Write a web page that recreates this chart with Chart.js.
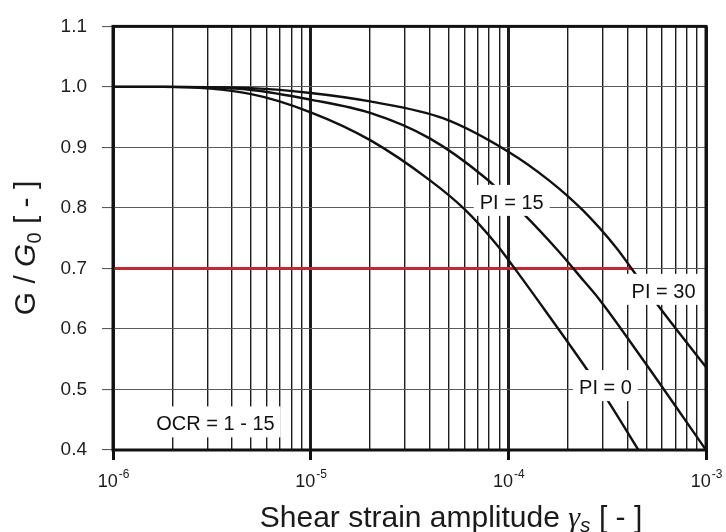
<!DOCTYPE html>
<html>
<head>
<meta charset="utf-8">
<script src="https://cdn.jsdelivr.net/npm/chart.js@4.4.1/dist/chart.umd.min.js"></script>
<style>
  html, body { margin: 0; padding: 0; background: #fff; }
  #wrap { width: 726px; height: 532px; position: relative; }
</style>
</head>
<body>
<div id="wrap"><canvas id="c" width="726" height="532"></canvas></div>
<script>
// Axis ticks
const strainDecades = [1e-6, 1e-5, 1e-4, 1e-3];
const decadeExponents = ['-6', '-5', '-4', '-3'];
const ratioTicks = [0.4, 0.5, 0.6, 0.7, 0.8, 0.9, 1.0, 1.1];

// Modulus reduction curves G/G0 versus shear strain amplitude
const pi0Strain  = [1e-6, 1.8e-6, 5e-6, 1e-5, 2e-5, 4e-5, 6e-5, 8.8e-5, 1.06e-4, 1.42e-4, 2.5e-4, 3.15e-4, 4.55e-4];
const pi0Ratio   = [1.0, 1.0, 0.988, 0.958, 0.912, 0.846, 0.798, 0.738, 0.703, 0.646, 0.533, 0.484, 0.400];

const pi15Strain = [1e-6, 2e-6, 5e-6, 1e-5, 2e-5, 4e-5, 7.5e-5, 1.17e-4, 1.8e-4, 2.4e-4, 2.9e-4, 4.9e-4, 1e-3];
const pi15Ratio  = [1.0, 1.0, 0.995, 0.979, 0.957, 0.915, 0.852, 0.793, 0.728, 0.680, 0.648, 0.545, 0.400];

const pi30Strain = [1e-6, 2e-6, 5e-6, 1e-5, 2e-5, 4.7e-5, 1e-4, 1.6e-4, 2.4e-4, 3.5e-4, 4.2e-4, 5.6e-4, 1e-3];
const pi30Ratio  = [1.0, 1.0, 0.998, 0.990, 0.976, 0.948, 0.893, 0.846, 0.795, 0.735, 0.700, 0.643, 0.537];

// Reference level G/G0 = 0.7
const refStrain = [1e-6, 4.2e-4];
const refRatio  = [0.7, 0.7];

// Curve annotations (anchored in data units)
const noteTexts  = ['PI = 15', 'PI = 30', 'PI = 0', 'OCR = 1 - 15'];
const noteStrain = [1.04e-4, 6.1e-4, 3.1e-4, 3.3e-6];
const noteRatio  = [0.810, 0.663, 0.504, 0.444];

const SANS = '"Liberation Sans", Arial, Helvetica, sans-serif';
const SERIF = '"Liberation Serif", "Times New Roman", serif';

const pts = (xs, ys) => xs.map((v, i) => ({ x: v, y: ys[i] }));

const curveStyle = {
  borderColor: '#111',
  borderWidth: 2.4,
  pointRadius: 0,
  fill: false,
  cubicInterpolationMode: 'monotone'
};

const decor = {
  id: 'decor',
  afterDatasetsDraw(chart) {
    const { ctx, chartArea: a, scales: { x, y } } = chart;
    ctx.save();

    // annotations on white patches
    ctx.font = '20px ' + SANS;
    ctx.textAlign = 'center';
    ctx.textBaseline = 'alphabetic';
    noteTexts.forEach((t, i) => {
      const px = x.getPixelForValue(noteStrain[i]);
      const py = y.getPixelForValue(noteRatio[i]);
      const w = ctx.measureText(t).width;
      ctx.fillStyle = '#fff';
      ctx.fillRect(px - w / 2 - 6, py - 17, w + 12, 31);
      ctx.fillStyle = '#111';
      ctx.fillText(t, px, py + 7);
    });

    // plot frame
    ctx.strokeStyle = '#111';
    ctx.lineWidth = 3;
    ctx.strokeRect(a.left, a.top, a.right - a.left, a.bottom - a.top);
    ctx.restore();
  },
  afterDraw(chart) {
    const { ctx, chartArea: a, scales: { x } } = chart;
    ctx.save();
    ctx.fillStyle = '#1a1a1a';
    ctx.textBaseline = 'alphabetic';
    ctx.textAlign = 'left';

    // decade labels 10^n
    strainDecades.forEach((d, i) => {
      const px = x.getPixelForValue(d);
      ctx.font = '18px ' + SANS;
      const wb = ctx.measureText('10').width;
      ctx.font = '12px ' + SANS;
      const we = ctx.measureText(decadeExponents[i]).width;
      const x0 = px - (wb + we) / 2;
      ctx.font = '18px ' + SANS;
      ctx.fillText('10', x0, a.bottom + 37);
      ctx.font = '12px ' + SANS;
      ctx.fillText(decadeExponents[i], x0 + wb + 1, a.bottom + 28);
    });

    // x-axis title: Shear strain amplitude γs [ - ]
    const xParts = [
      { t: 'Shear strain amplitude ', f: '30px ' + SANS, dy: 0 },
      { t: 'γ', f: 'italic 30px ' + SERIF, dy: 0 },
      { t: 's', f: 'italic 21px ' + SANS, dy: 5 },
      { t: ' [ - ]', f: '30px ' + SANS, dy: 0 }
    ];
    let total = 0;
    xParts.forEach(p => { ctx.font = p.f; p.w = ctx.measureText(p.t).width; total += p.w; });
    let cx = 451 - total / 2;
    xParts.forEach(p => { ctx.font = p.f; ctx.fillText(p.t, cx, 527 + p.dy); cx += p.w; });

    // y-axis title: G / G0 [ - ]
    const yParts = [
      { t: 'G / ', f: '30px ' + SANS, dy: 0 },
      { t: 'G', f: 'italic 30px ' + SANS, dy: 0 },
      { t: '0', f: '20px ' + SANS, dy: 6 },
      { t: ' [ - ]', f: '30px ' + SANS, dy: 0 }
    ];
    total = 0;
    yParts.forEach(p => { ctx.font = p.f; p.w = ctx.measureText(p.t).width; total += p.w; });
    ctx.translate(35, 248);
    ctx.rotate(-Math.PI / 2);
    cx = -total / 2;
    yParts.forEach(p => { ctx.font = p.f; ctx.fillText(p.t, cx, p.dy); cx += p.w; });
    ctx.restore();
  }
};

new Chart(document.getElementById('c'), {
  type: 'line',
  data: {
    datasets: [
      Object.assign({ label: 'PI = 0', data: pts(pi0Strain, pi0Ratio) }, curveStyle),
      Object.assign({ label: 'PI = 15', data: pts(pi15Strain, pi15Ratio) }, curveStyle),
      Object.assign({ label: 'PI = 30', data: pts(pi30Strain, pi30Ratio) }, curveStyle),
      {
        label: 'G/G0 = 0.7',
        data: pts(refStrain, refRatio),
        borderColor: 'rgb(190, 42, 48)',
        borderWidth: 3,
        pointRadius: 0,
        tension: 0,
        fill: false
      }
    ]
  },
  options: {
    responsive: false,
    animation: false,
    devicePixelRatio: 1,
    layout: { padding: { left: 0, top: 25, right: 20, bottom: 0 } },
    plugins: { legend: { display: false }, tooltip: { enabled: false } },
    scales: {
      x: {
        type: 'logarithmic',
        min: strainDecades[0],
        max: strainDecades[strainDecades.length - 1],
        afterBuildTicks(scale) {
          const t = [];
          strainDecades.forEach((d, i) => {
            if (i < strainDecades.length - 1) {
              for (let m = 1; m <= 9; m++) t.push({ value: m * d, major: m === 1 });
            } else {
              t.push({ value: d, major: true });
            }
          });
          scale.ticks = t;
        },
        afterFit(scale) { scale.height = 82; },
        ticks: { display: false },
        border: { display: false },
        grid: {
          color: '#1c1c1c',
          lineWidth: c => (c.tick && c.tick.major ? 3 : 1.4),
          drawTicks: true,
          tickLength: 10,
          tickWidth: 3,
          tickColor: c => (c.tick && c.tick.major ? '#111' : 'rgba(0,0,0,0)')
        }
      },
      y: {
        type: 'linear',
        min: ratioTicks[0],
        max: ratioTicks[ratioTicks.length - 1],
        afterBuildTicks(scale) { scale.ticks = ratioTicks.map(v => ({ value: v })); },
        afterFit(scale) { scale.width = 113; },
        border: { display: false },
        ticks: {
          padding: 15,
          color: '#1e1e1e',
          font: { family: SANS, size: 19 },
          callback: v => Number(v).toFixed(1)
        },
        grid: {
          color: '#5a5a5a',
          lineWidth: 1.1,
          tickLength: 11,
          tickColor: '#5a5a5a'
        }
      }
    }
  },
  plugins: [decor]
});
</script>
</body>
</html>
